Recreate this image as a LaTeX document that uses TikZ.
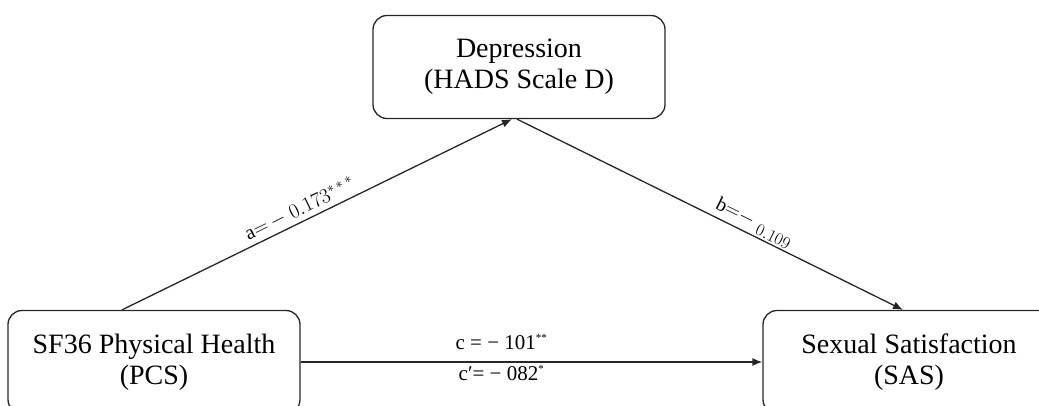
\documentclass[tikz,border=0pt]{standalone}
\usepackage{fontspec}
\setmainfont{Liberation Serif}
\usetikzlibrary{arrows.meta}
\begin{document}
\begin{tikzpicture}[x=1pt,y=-1pt,
  varbox/.style={draw=black!85, line width=1.3pt, rounded corners=14pt,
    minimum width=292pt, minimum height=103pt, align=center, inner sep=0pt,
    font=\fontsize{28}{31}\selectfont},
  path/.style={line width=1.3pt, draw=black!85, -{Latex[length=10pt,width=8pt]}},
  coef/.style={font=\fontsize{20}{24}\selectfont, inner sep=2pt}
]
\useasboundingbox (0,0) rectangle (1039,405);
\node[varbox] (dep) at (519,67) {Depression\\(HADS Scale D)};
\node[varbox] (sf) at (154,362) {SF36 Physical Health\\(PCS)};
\node[varbox] (sas) at (909,362) {Sexual Satisfaction\\(SAS)};
\draw[path] ([xshift=-32pt]sf.north) -- node[coef, sloped, above, pos=0.47, yshift=2pt] {$\mathrm{a}{=}\,{-}\;0.173^{*\,*\,*}$} ([xshift=-7pt]dep.south);
\draw[path] ([xshift=-2pt]dep.south) -- node[coef, sloped, above, pos=0.6] {$\mathrm{b}{=}{-}\;$\raisebox{-5pt}{\fontsize{16}{18}\selectfont$0.109$}} ([xshift=-6pt]sas.north);
\draw[path] (sf.east) -- node[coef, above, pos=0.435, yshift=10pt, font=\fontsize{21}{24}\selectfont] {c = − 101\textsuperscript{\fontsize{11}{11}\selectfont **}} node[coef, below, pos=0.435, yshift=-1pt, font=\fontsize{21}{24}\selectfont] {c′= − 082\textsuperscript{\fontsize{11}{11}\selectfont *}} (sas.west);
\end{tikzpicture}
\end{document}
